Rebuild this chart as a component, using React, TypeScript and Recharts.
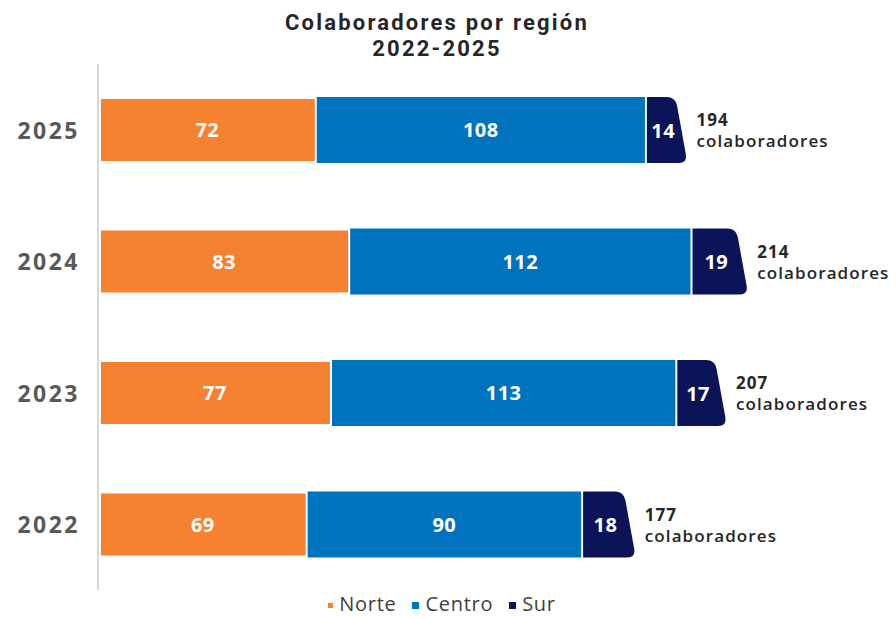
import React from 'react';
import { BarChart, Bar, XAxis, YAxis, Legend, LabelList } from 'recharts';

const years = ['2025', '2024', '2023', '2022'];
const norte = [72, 83, 77, 69];
const centro = [108, 112, 113, 90];
const sur = [14, 19, 17, 18];
const totals = [194, 214, 207, 177];
const seriesNames = ['Norte', 'Centro', 'Sur'];
const colors = ['#F58131', '#0073BF', '#0C1459'];

const data = years.map((y, i) => ({
  year: y,
  norte: norte[i],
  centro: centro[i],
  sur: sur[i],
  total: totals[i],
}));

const FONT = '"Open Sans", sans-serif';

const NorteShape = (p: any) => {
  const { x, y, width, height, fill } = p;
  return <rect x={x + 3} y={y + 2} width={Math.max(0, width - 5)} height={height - 4} fill={fill} />;
};

const CentroShape = (p: any) => {
  const { x, y, width, height, fill } = p;
  return <rect x={x} y={y} width={width} height={height} fill={fill} />;
};

const SurShape = (p: any) => {
  const { x, y, width, height, fill } = p;
  const x0 = x + 2;
  const y0 = y;
  const xr = x + width;
  const yb = y + height;
  const s = 12;
  const r = 9;
  const bx = xr - s;
  const len = Math.sqrt(s * s + height * height);
  const ux = s / len;
  const uy = height / len;
  const d = [
    `M${x0},${y0}`,
    `L${bx - r},${y0}`,
    `Q${bx},${y0} ${bx + ux * r},${y0 + uy * r}`,
    `L${xr - ux * r},${yb - uy * r}`,
    `Q${xr},${yb} ${xr - r},${yb}`,
    `L${x0},${yb}`,
    'Z',
  ].join(' ');
  return <path d={d} fill={fill} />;
};

const SurValueLabel = (p: any) => {
  const { x, y, width, height, value } = p;
  return (
    <text x={x + 2 + (width - 2) / 2 - 4} y={y + height / 2} fill="#fff" fontSize={20} fontWeight={700}
      fontFamily={FONT} textAnchor="middle" dominantBaseline="central" letterSpacing={0.5}>{value}</text>
  );
};

const TotalLabel = (p: any) => {
  const { x, y, width, height, value } = p;
  const cx = x + width + 9;
  const cy = y + height / 2;
  return (
    <g>
      <text x={cx} y={cy - 4} fill="#262626" fontSize={17} fontWeight={700} fontFamily={FONT} letterSpacing={1}>{value}</text>
      <text x={cx} y={cy + 17} fill="#262626" fontSize={17} fontWeight={600} fontFamily={FONT} letterSpacing={1.1}>colaboradores</text>
    </g>
  );
};

const YTick = (p: any) => {
  const { x, y, payload } = p;
  return (
    <text x={x} y={y} fill="#595959" fontSize={23} fontWeight={700} fontFamily={FONT}
      textAnchor="end" dominantBaseline="central" letterSpacing={2.5}>{payload.value}</text>
  );
};

const LegendContent = () => (
  <div style={{ boxSizing: 'border-box', height: 27, display: 'flex', justifyContent: 'center', alignItems: 'center', paddingRight: 12, paddingTop: 1, fontFamily: FONT, fontSize: 20, color: '#404040', letterSpacing: 0.7 }}>
    {seriesNames.map((n, i) => (
      <div key={n} style={{ display: 'flex', alignItems: 'center', marginRight: i < 2 ? 16 : 0 }}>
        <span style={{ display: 'inline-block', width: i === 0 ? 5 : 7, height: i === 0 ? 5 : 7, background: colors[i], marginRight: 6, marginTop: 2 }} />
        <span style={{ display: 'inline-block', lineHeight: '20px', height: 20 }}>{n}</span>
      </div>
    ))}
  </div>
);

const TITLE_FONT = 'Roboto, "Open Sans", sans-serif';

export default function App() {
  return (
    <div style={{ position: 'relative', width: 888, height: 609 }}>
      <div style={{ position: 'absolute', top: 2, left: 0, width: 858, textAlign: 'center', fontFamily: TITLE_FONT, fontWeight: 700, fontSize: 22, lineHeight: '26px', color: '#262626', letterSpacing: 2.2 }}>
        <div>Colaboradores por región</div>
        <div>2022-2025</div>
      </div>
      <BarChart layout="vertical" width={888} height={609} data={data}
        margin={{ top: 56, right: 8, bottom: 0, left: 0 }} barSize={66}>
        <XAxis type="number" domain={[0, 260]} hide />
        <YAxis type="category" dataKey="year" width={90} axisLine={{ stroke: '#d9d9d9', strokeWidth: 2 }}
          tickLine={false} tickSize={0} tickMargin={18} tick={<YTick />} />
        <Legend verticalAlign="bottom" align="center" content={<LegendContent />} />
        <Bar dataKey="norte" name="Norte" stackId="a" fill={colors[0]} shape={<NorteShape />} isAnimationActive={false}>
          <LabelList dataKey="norte" position="center" fill="#fff" fontSize={20} fontWeight={700} fontFamily={FONT} letterSpacing={0.5} />
        </Bar>
        <Bar dataKey="centro" name="Centro" stackId="a" fill={colors[1]} shape={<CentroShape />} isAnimationActive={false}>
          <LabelList dataKey="centro" position="center" fill="#fff" fontSize={20} fontWeight={700} fontFamily={FONT} letterSpacing={0.5} />
        </Bar>
        <Bar dataKey="sur" name="Sur" stackId="a" fill={colors[2]} shape={<SurShape />} isAnimationActive={false}>
          <LabelList dataKey="sur" content={<SurValueLabel />} />
          <LabelList dataKey="total" content={<TotalLabel />} />
        </Bar>
      </BarChart>
    </div>
  );
}
